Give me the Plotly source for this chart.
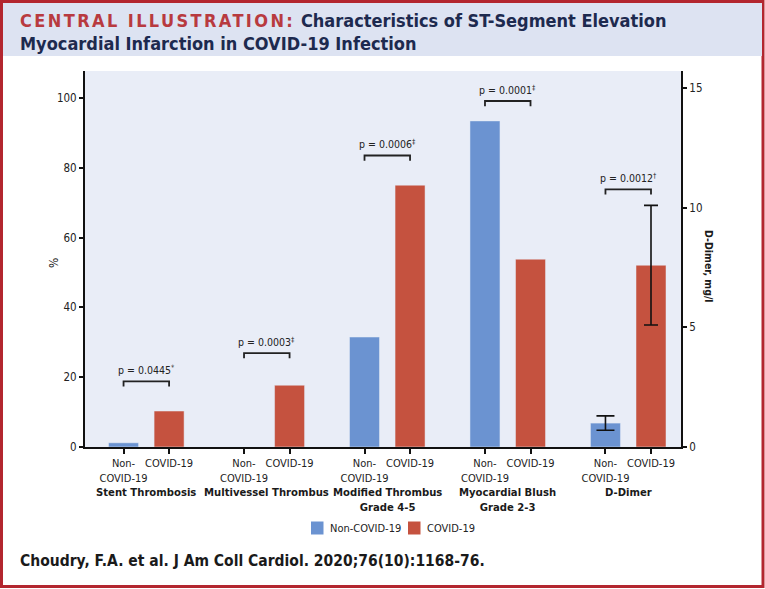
import plotly.graph_objects as go

# data
groups = ["Stent Thrombosis", "Multivessel Thrombus", "Modified Thrombus<br>Grade 4-5",
          "Myocardial Blush<br>Grade 2-3", "D-Dimer"]
series_names = ["Non-COVID-19", "COVID-19"]
non_covid_pct = [1.2, 0.0, 31.5, 93.4]
covid_pct = [10.3, 17.7, 75.0, 53.8]
non_covid_ddimer = [1.0]
non_covid_ddimer_err = [0.3]
covid_ddimer = [7.6]
covid_ddimer_err_plus = [2.5]
covid_ddimer_err_minus = [2.5]
p_values = ["p = 0.0445<sup>*</sup>", "p = 0.0003<sup>‡</sup>", "p = 0.0006<sup>‡</sup>",
            "p = 0.0001<sup>‡</sup>", "p = 0.0012<sup>†</sup>"]
bracket_level = [18.8, 26.9, 83.5, 99.1, 73.8]  # in % axis units

BLUE = "#6b93d1"
RED = "#c5523f"
NAVY = "#1d2a4f"
FRAME_RED = "#b3262f"
FONT = "Liberation Sans Narrow, DejaVu Sans Condensed, Liberation Sans, sans-serif"

W, H = 765, 589
L, R, T, B = 85, 84, 71, 142
PW, PH = W - L - R, H - T - B


def px(x):
    return (x - L) / PW


def py(y):
    return (H - B - y) / PH


half = 0.189
bw = 0.249
n_pct = len(non_covid_pct)

fig = go.Figure()
fig.add_trace(go.Bar(x=list(range(n_pct)), y=non_covid_pct, offset=-half - bw / 2, width=bw,
                     marker_color=BLUE, name=series_names[0]))
fig.add_trace(go.Bar(x=list(range(n_pct)), y=covid_pct, offset=half - bw / 2, width=bw,
                     marker_color=RED, name=series_names[1]))
fig.add_trace(go.Bar(x=[n_pct], y=non_covid_ddimer, offset=-half - bw / 2, width=bw,
                     marker_color=BLUE, yaxis="y2", name=series_names[0],
                     error_y=dict(type="data", array=non_covid_ddimer_err, color="#111",
                                  thickness=1.6, width=9)))
fig.add_trace(go.Bar(x=[n_pct], y=covid_ddimer, offset=half - bw / 2, width=bw,
                     marker_color=RED, yaxis="y2", name=series_names[1],
                     error_y=dict(type="data", array=covid_ddimer_err_plus,
                                  arrayminus=covid_ddimer_err_minus, color="#111",
                                  thickness=1.6, width=7)))

tickvals, ticktext = [], []
for i in range(len(groups)):
    tickvals += [i - half, i + half]
    ticktext += ["Non-<br>COVID-19", "COVID-19"]

shapes = [
    # outer red frame
    dict(type="rect", xref="paper", yref="paper", x0=px(1.5), x1=px(763), y0=py(1.5), y1=py(586.5),
         line=dict(color=FRAME_RED, width=3), fillcolor="rgba(0,0,0,0)", layer="below"),
    # title band
    dict(type="rect", xref="paper", yref="paper", x0=px(3), x1=px(762), y0=py(3), y1=py(56),
         line=dict(width=0), fillcolor="#dde3f2", layer="below"),
]

annotations = []
for i, (label, pv, lvl) in enumerate(zip(groups, p_values, bracket_level)):
    x0, x1 = i - half, i + half
    shapes.append(dict(type="path", xref="x", yref="y",
                       path=f"M {x0},{lvl - 1.5} L {x0},{lvl} L {x1},{lvl} L {x1},{lvl - 1.5}",
                       line=dict(color="#222", width=1.8)))
    annotations.append(dict(x=i, y=lvl + 3.3, xref="x", yref="y", text=pv, showarrow=False,
                            font=dict(family=FONT, size=10.5, color="#222"), yanchor="middle"))
    annotations.append(dict(x=i, y=py(484), xref="x", yref="paper", text=f"<b>{label}</b>",
                            showarrow=False, yanchor="top",
                            font=dict(family=FONT, size=11.2, color="#1a1a1a")))

# legend drawn by hand so the swatch/text spacing matches the reference
for name, color, left in zip(series_names, [BLUE, RED], [311, 408]):
    shapes.append(dict(type="rect", xref="paper", yref="paper", x0=px(left), x1=px(left + 12.5),
                       y0=py(534.5), y1=py(521.5), fillcolor=color, line=dict(width=0)))
    annotations.append(dict(x=px(left + 17), y=py(528), xref="paper", yref="paper", text=name,
                            xanchor="left", yanchor="middle", showarrow=False,
                            font=dict(family=FONT, size=11, color="#222")))

annotations += [
    dict(x=px(18), y=py(8), xref="paper", yref="paper", xanchor="left", yanchor="top", align="left",
         showarrow=False,
         text=f"<b><span style='color:#b83a3f;letter-spacing:2.4px'>CENTRAL ILLUSTRATION:</span> "
              f"Characteristics of ST-Segment Elevation<br>Myocardial Infarction in COVID-19 Infection</b>",
         font=dict(family=FONT, size=18, color=NAVY)),
    dict(x=px(18), y=py(561), xref="paper", yref="paper", xanchor="left", yanchor="middle",
         showarrow=False, text="<b>Choudry, F.A. et al. J Am Coll Cardiol. 2020;76(10):1168-76.</b>",
         font=dict(family=FONT, size=15.5, color="#1a1a1a")),
    dict(x=px(709), y=py(266), xref="paper", yref="paper", xanchor="center", yanchor="middle",
         showarrow=False, textangle=90,
         text="<b>D-Dimer, mg/l</b>", font=dict(family=FONT, size=10.5, color="#1a1a1a")),
    dict(x=px(54), y=py(263), xref="paper", yref="paper", xanchor="center", yanchor="middle",
         showarrow=False, textangle=-90,
         text="%", font=dict(family=FONT, size=12, color="#222")),
]

fig.update_layout(
    width=W, height=H, autosize=False,
    margin=dict(l=L, r=R, t=T, b=B, pad=0),
    paper_bgcolor="white", plot_bgcolor="#e9edf7",
    barmode="overlay", showlegend=False,
    font=dict(family=FONT, size=11, color="#222"),
    xaxis=dict(range=[-0.509, 4.438], tickvals=tickvals, ticktext=ticktext, tickangle=0,
               showgrid=False, zeroline=False, showline=True, linecolor="#111", linewidth=2,
               ticks="outside", ticklen=5, tickwidth=1.5, tickcolor="#111", tickfont=dict(size=11)),
    yaxis=dict(range=[0, 107.7], tickvals=[0, 20, 40, 60, 80, 100], showgrid=False, zeroline=False,
               showline=True, linecolor="#111", linewidth=2, ticks="outside", ticklen=4,
               tickwidth=1.5, tickcolor="#111", tickfont=dict(size=11.5)),
    yaxis2=dict(range=[0, 15.72], tickvals=[0, 5, 10, 15], overlaying="y", side="right",
                showgrid=False, zeroline=False, showline=True, linecolor="#111", linewidth=2,
                ticks="outside", ticklen=4, tickwidth=1.5, tickcolor="#111", tickfont=dict(size=11.5)),
    shapes=shapes,
    annotations=annotations,
)

# the page body has an 8px default margin; remove it so the figure fills the window
fig.write_html("out.html", config={"displayModeBar": False},
               post_script="document.body.style.margin='0';")
